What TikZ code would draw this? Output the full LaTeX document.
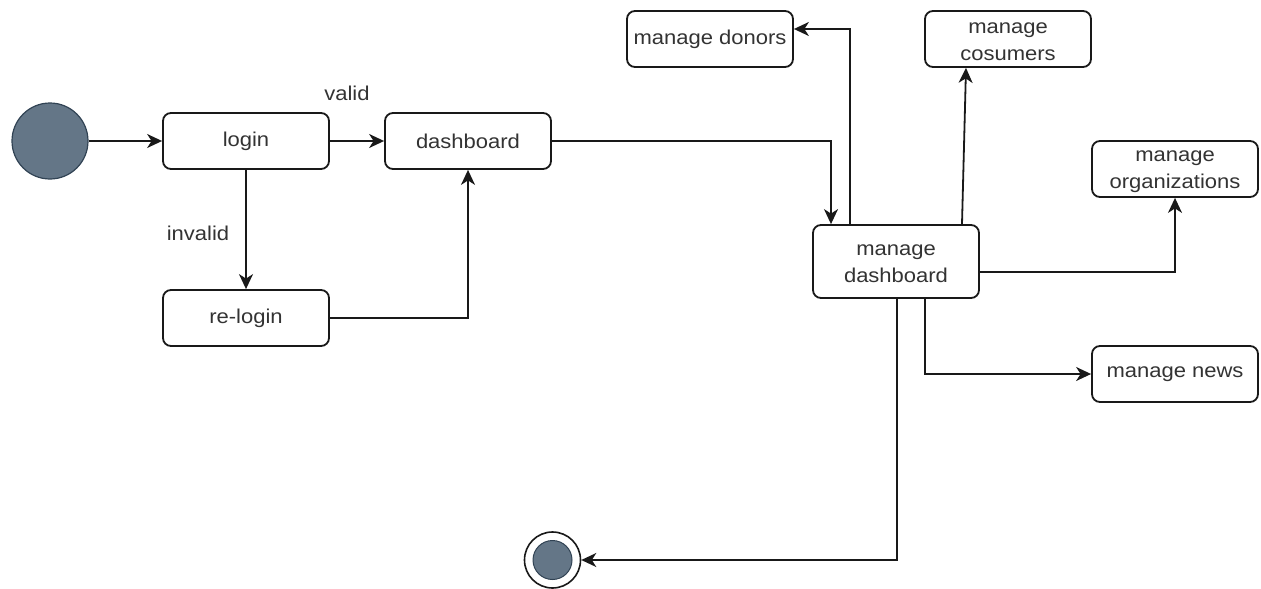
\documentclass[tikz,border=0pt]{standalone}
\usepackage{fontspec}
\setmainfont[FakeStretch=1.1]{Liberation Sans}
\usetikzlibrary{arrows.meta}
\definecolor{slate}{HTML}{647687}
\definecolor{slatedark}{HTML}{314354}
\definecolor{txt}{HTML}{333333}
\newcommand\toppad{\rule{0pt}{16pt}}
\tikzset{
  statebox/.style={draw=black!90, line width=1.8pt, rounded corners=8pt, fill=white,
    minimum width=166pt, minimum height=56pt, inner sep=2pt, align=center,
    font=\fontsize{20}{27}\selectfont, text=txt},
  conn/.style={draw=black!90, line width=1.8pt, -{Stealth[length=15pt,width=14pt,inset=4.5pt]}},
  lbl/.style={font=\fontsize{20}{27}\selectfont, text=txt, inner sep=0pt},
}
\begin{document}
\begin{tikzpicture}[x=1pt,y=-1pt]
\useasboundingbox (0,0) rectangle (1261,589);
\node[circle, draw=slatedark, line width=1.2pt, fill=slate, minimum size=76pt, inner sep=0pt] (start) at (50,141) {};
\node[statebox] (login) at (246,141) {login};
\node[statebox] (dash) at (468,141) {dashboard};
\node[statebox] (relogin) at (246,318) {re-login};
\node[statebox, minimum height=73pt] (mdash) at (896,261.5) {\toppad manage\\dashboard};
\node[statebox] (donors) at (710,39) {manage donors};
\node[statebox] (cons) at (1008,39) {\toppad manage\\cosumers};
\node[statebox] (org) at (1175,169) {\toppad manage\\organizations};
\node[statebox] (news) at (1175,374) {manage news};
\node[circle, draw=black!90, line width=1.6pt, fill=white, minimum size=56pt, inner sep=0pt] (end) at (552.5,560) {};
\node[circle, draw=slatedark, line width=1pt, fill=slate, minimum size=39pt, inner sep=0pt] (endin) at (552.5,560) {};
\node[lbl] (valid) at (347,93) {valid};
\node[lbl] (invalid) at (198,233) {invalid};

\draw[conn] (start.east) -- (login.west);
\draw[conn] (login.east) -- (dash.west);
\draw[conn] (login.south) -- (relogin.north);
\draw[conn] (relogin.east) -| (dash.south);
\draw[conn] (dash.east) -| ([xshift=-65pt]mdash.north);
\draw[conn] ([xshift=-46pt]mdash.north) |- ([yshift=10pt]donors.east);
\draw[conn] ([xshift=66pt]mdash.north) -- ([xshift=-42pt]cons.south);
\draw[conn] ([yshift=-10.5pt]mdash.east) -| (org.south);
\draw[conn] ([xshift=29pt]mdash.south) |- (news.west);
\draw[conn] ([xshift=1pt]mdash.south) |- (end.east);
\end{tikzpicture}
\end{document}
